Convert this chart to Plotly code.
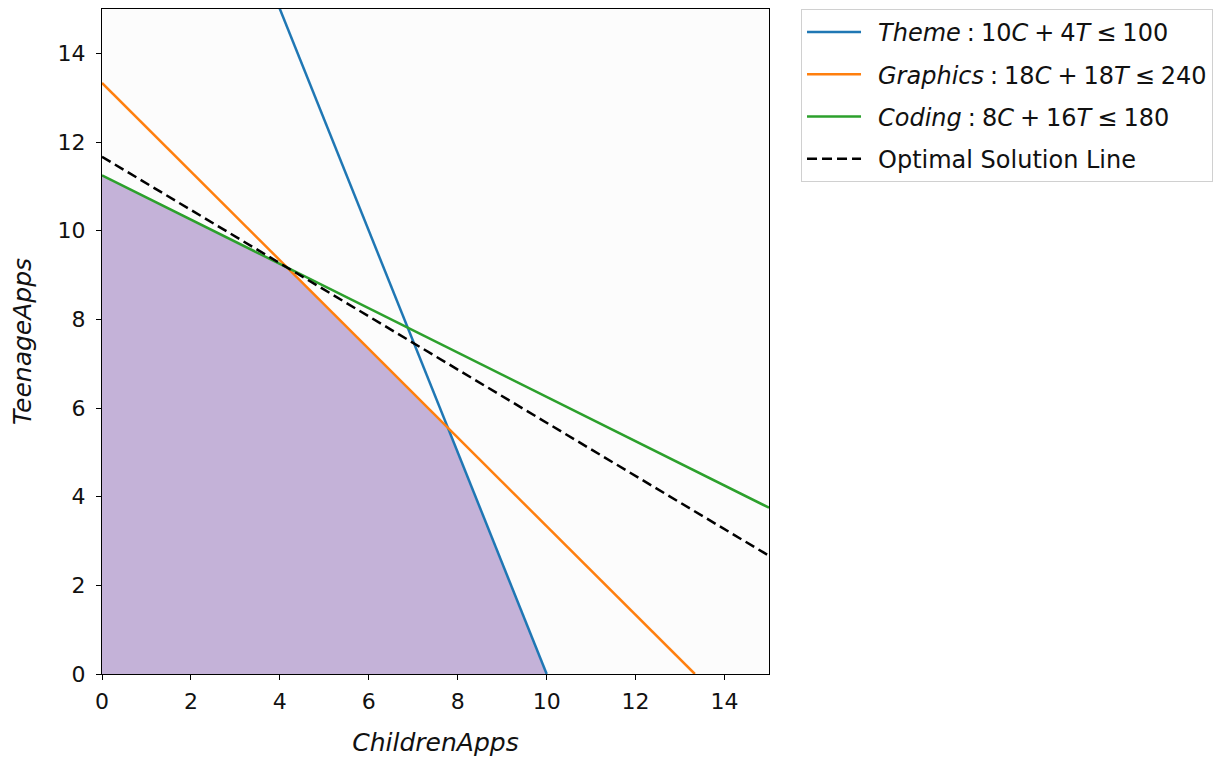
import plotly.graph_objects as go

# Constraint / objective lines (endpoints)
theme_x = [0, 10]
theme_y = [25, 0]
graphics_x = [0, 13.333]
graphics_y = [13.333, 0]
coding_x = [0, 15]
coding_y = [11.25, 3.75]
optimal_x = [0, 15]
optimal_y = [11.667, 2.667]

# Feasible region vertices
region_x = [0, 0, 4.167, 7.778, 10, 0]
region_y = [0, 11.25, 9.167, 5.556, 0, 0]

tick_vals = [0, 2, 4, 6, 8, 10, 12, 14]

S = "\u2005"  # four-per-em space (math spacing)
labels = [
    f"\u2002<i>Theme</i>{S}:{S}10<i>C</i>{S}+{S}4<i>T</i>{S}≤{S}100",
    f"\u2002<i>Graphics</i>{S}:{S}18<i>C</i>{S}+{S}18<i>T</i>{S}≤{S}240",
    f"\u2002<i>Coding</i>{S}:{S}8<i>C</i>{S}+{S}16<i>T</i>{S}≤{S}180",
    "\u2002Optimal Solution Line",
]
colors = ["#1f77b4", "#ff7f0e", "#2ca02c", "black"]

fig = go.Figure()
fig.add_trace(go.Scatter(x=region_x, y=region_y, fill="toself", fillcolor="#c4b2d8",
                         line=dict(width=0), mode="lines", showlegend=False, hoverinfo="skip"))
series = [(theme_x, theme_y), (graphics_x, graphics_y), (coding_x, coding_y), (optimal_x, optimal_y)]
for i, ((xs, ys), lab, col) in enumerate(zip(series, labels, colors)):
    fig.add_trace(go.Scatter(x=xs, y=ys, mode="lines", name=lab, legendgroup=str(i),
                             line=dict(color=col, width=2.5, dash="10px,5px" if i == 3 else "solid")))

font = "DejaVu Sans, sans-serif"
fig.update_layout(
    width=1221, height=757,
    margin=dict(l=94, r=460, t=1, b=91),
    plot_bgcolor="#fcfcfc", paper_bgcolor="white",
    font=dict(family=font, size=22, color="#111111"),
    legend=dict(x=1.048, y=1.0, xanchor="left", yanchor="top",
                bordercolor="#d0d0d0", borderwidth=1, bgcolor="white",
                font=dict(size=24), tracegroupgap=8, traceorder="grouped",
                itemwidth=54),
    xaxis=dict(range=[0, 15], tickvals=tick_vals, showgrid=False, zeroline=False,
               showline=True, linecolor="black", linewidth=1.3, mirror=True,
               ticks="outside", ticklen=5, tickcolor="black", ticklabelstandoff=2,
               title=dict(text="<i>ChildrenApps</i>", font=dict(size=25), standoff=20)),
    yaxis=dict(range=[0, 15], tickvals=tick_vals, showgrid=False, zeroline=False,
               showline=True, linecolor="black", linewidth=1.3, mirror=True,
               ticks="outside", ticklen=5, tickcolor="black", ticklabelstandoff=6,
               title=dict(text="<i>TeenageApps</i>", font=dict(size=25), standoff=20)),
)
fig.write_html("out.html")
